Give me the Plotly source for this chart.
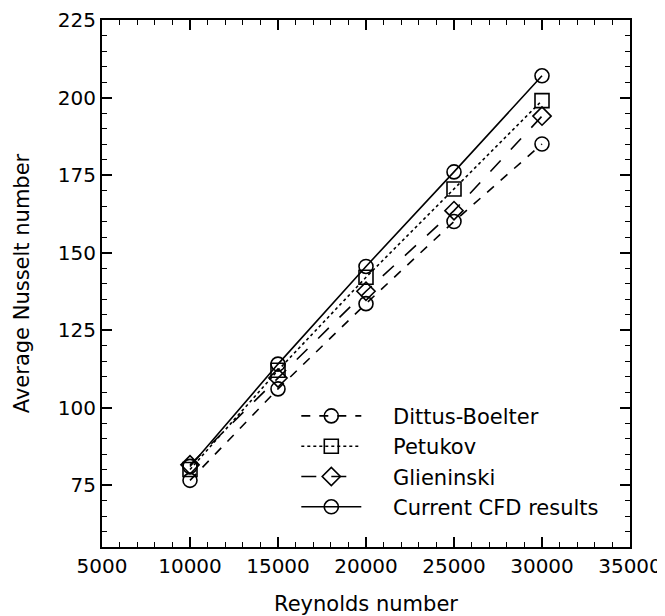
import plotly.graph_objects as go

reynolds = [10000, 15000, 20000, 25000, 30000]
dittus_boelter = [76.5, 106, 133.5, 160, 185]
petukov = [80, 112, 142, 170.5, 199]
glieninski = [81.5, 109.5, 137.5, 163.5, 194]
current_cfd = [81, 114, 145.5, 176, 207]

series = [
    ("Dittus-Boelter", dittus_boelter, "dash", "circle-open"),
    ("Petukov", petukov, "dot", "square-open"),
    ("Glieninski", glieninski, "longdash", "diamond-open"),
    ("Current CFD results", current_cfd, "solid", "circle-open"),
]

FONT = "DejaVu Sans"
PAD = "\u00a0\u00a0\u00a0\u00a0"

fig = go.Figure()
for name, vals, dash, sym in series:
    fig.add_trace(go.Scatter(
        x=reynolds, y=vals, name=PAD + name, mode="lines+markers",
        line=dict(color="black", width=1.6, dash=dash),
        marker=dict(symbol=sym, size=14, color="black", line=dict(width=1.6, color="black")),
    ))

axis_common = dict(
    showgrid=False, zeroline=False, showline=True, linecolor="black", linewidth=2,
    mirror="ticks", ticks="inside", ticklen=10, tickwidth=1.5, tickcolor="black",
    tickfont=dict(family=FONT, size=20, color="black"), automargin=False,
    tickformat="d", ticklabeloverflow="allow",
)

fig.update_xaxes(
    range=[5000, 35000], dtick=5000, tick0=5000,
    minor=dict(ticks="inside", ticklen=5, dtick=1000, tickwidth=1.2, tickcolor="black"),
    title=dict(text="Reynolds number", font=dict(family=FONT, size=21, color="black"), standoff=19),
    **axis_common,
)
fig.update_yaxes(
    range=[55, 225], dtick=25, tick0=75,
    minor=dict(ticks="inside", ticklen=5, dtick=5, tickwidth=1.2, tickcolor="black"),
    title=dict(text="Average Nusselt number", font=dict(family=FONT, size=21, color="black"), standoff=22),
    **axis_common,
)

fig.update_layout(
    width=657, height=608,
    margin=dict(l=94, r=35, t=12, b=69),
    paper_bgcolor="white", plot_bgcolor="white",
    showlegend=True,
    legend=dict(
        x=0.368, y=0.287, xanchor="left", yanchor="top",
        bgcolor="rgba(0,0,0,0)", borderwidth=0,
        font=dict(family=FONT, size=21, color="black"),
        itemwidth=60, tracegroupgap=0,
    ),
)

fig.write_html("out.html")
